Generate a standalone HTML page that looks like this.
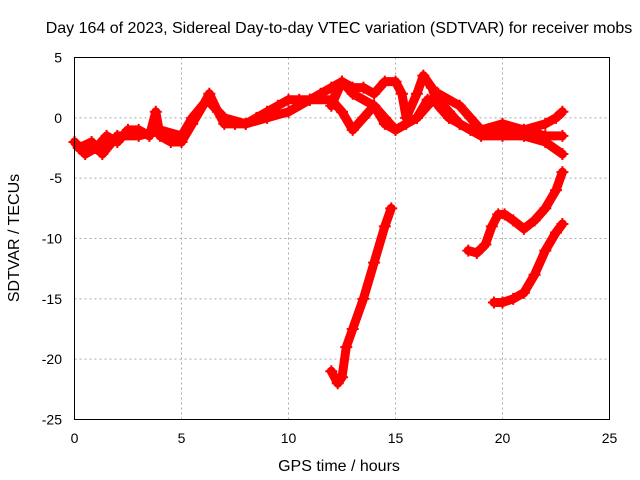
<!DOCTYPE html>
<html><head><meta charset="utf-8"><style>
body{margin:0;background:#fff}
svg{display:block;font-family:"Liberation Sans",sans-serif;font-size:14px}
.t{font-size:16px}
</style></head><body>
<svg id="c" width="640" height="480">
<rect x="0" y="0" width="640" height="480" fill="#fff"/>
<text class="t" x="339" y="33" text-anchor="middle">Day 164 of 2023, Sidereal Day-to-day VTEC variation (SDTVAR) for receiver mobs</text>
<text class="t" x="339" y="471" text-anchor="middle">GPS time / hours</text>
<text class="t" transform="translate(19,238) rotate(-90)" text-anchor="middle">SDTVAR / TECUs</text>
<g id="grid"></g><g id="ticks"></g><g id="series"></g>
<rect x="74.5" y="57.5" width="535" height="362" fill="none" stroke="#000" stroke-width="1"/>
</svg>
<script>
const xTicks=[0,5,10,15,20,25];
const yTicks=[5,0,-5,-10,-15,-20,-25];
const trackA_x=[0,0.5,1,1.5,2,2.5,3,3.5,3.8,4,4.5,5,5.5,6,6.3,6.7,7,7.5,8,8.5,9,9.5,10,10.5,11,11.5,12,12.5,13,13.5,14,14.5,15,15.3,15.5,16,16.3,16.7,17,17.5,18,18.5,19,20,21,22,22.5,22.8];
const trackA_y=[-2,-3,-2.5,-1.5,-2,-1,-1,-1.5,0.5,-1.5,-2,-2,-0.5,1,2,0.5,-0.5,-0.5,-0.5,0,0.5,1,1.5,1.5,1.5,2,2.5,3,2.5,2.5,2,3,3,2,0,2,3.5,2.5,1,0,-0.5,-1,-1,-1,-1,-0.5,0,0.5];
const trackB_x=[0.2,0.8,1.3,2,3,4,5,5.5,6.2,7,8,9,10,11,12,12.5,13,13.5,14,14.5,15,15.5,16,16.5,17,17.5,18,19,20,21,22,22.8];
const trackB_y=[-2.5,-2,-3,-1.5,-1.5,-1,-1.5,0,1.5,0,-0.5,0,0.5,1.5,1.5,0.5,-1,0,1,0,-1,-0.5,0,1.5,1.5,0.5,-0.5,-1.5,-1.5,-1.5,-2,-3];
const trackC_x=[12,12.5,13,14,14.5,15,16,17,18,18.5,19,20,21,22,22.8];
const trackC_y=[1,3,2,1,-0.5,-1,0,2,1,0,-1,-0.5,-1,-1.5,-1.5];
const seg1_x=[12,12.3,12.5,12.7,13,13.5,14,14.5,14.8];
const seg1_y=[-21,-22,-21.5,-19,-17.5,-15,-12,-9,-7.5];
const seg2_x=[18.4,18.8,19.2,19.5,19.8,20.1,20.5,21,21.5,22,22.5,22.8];
const seg2_y=[-11,-11.2,-10.5,-9,-8,-8,-8.5,-9.2,-8.5,-7.5,-6,-4.5];
const seg3_x=[19.6,20,20.5,21,21.5,22,22.5,22.8];
const seg3_y=[-15.3,-15.3,-15,-14.5,-13,-11,-9.5,-8.8];
const NS='http://www.w3.org/2000/svg';
const X=v=>74.5+v*535/25, Y=v=>57.5+(5-v)*362/30;
function mk(t,a){const e=document.createElementNS(NS,t);for(const k in a)e.setAttribute(k,a[k]);return e;}
const grid=document.getElementById('grid'),ticks=document.getElementById('ticks'),ser=document.getElementById('series');
xTicks.forEach(v=>{
 if(v>0&&v<25){const g=mk('line',{x1:X(v),x2:X(v),y1:57.5,y2:419.5,stroke:'#aaa','stroke-dasharray':'2,3'});
 
 grid.appendChild(g);}
 const t=mk('text',{x:X(v),y:443,'text-anchor':'middle'});t.textContent=v;
 
 ticks.appendChild(t);
});
yTicks.forEach(v=>{
 if(v>-25&&v<5){const g=mk('line',{x1:74.5,x2:609.5,y1:Y(v),y2:Y(v),stroke:'#aaa','stroke-dasharray':'2,3'});
 
 grid.appendChild(g);}
 const t=mk('text',{x:62,y:Y(v)+5,'text-anchor':'end'});t.textContent=v;
 
 ticks.appendChild(t);
});
[[trackA_x,trackA_y,'track-a'],[trackB_x,trackB_y,'track-b'],[trackC_x,trackC_y,'track-c'],[seg1_x,seg1_y,'segment-1'],[seg2_x,seg2_y,'segment-2'],[seg3_x,seg3_y,'segment-3']].forEach(([xs,ys,n])=>{
 const p=mk('polyline',{points:xs.map((x,i)=>X(x)+','+Y(ys[i])).join(' '),fill:'none',stroke:'#f00','stroke-width':9,'stroke-linejoin':'round','stroke-linecap':'round'});
 
 ser.appendChild(p);
 xs.forEach((x,i)=>{const m=mk('path',{d:`M${X(x)-6},${Y(ys[i])}h12M${X(x)},${Y(ys[i])-6}v12`,stroke:'#f00','stroke-width':2});
 
 ser.appendChild(m);});
});
</script>
</body></html>
